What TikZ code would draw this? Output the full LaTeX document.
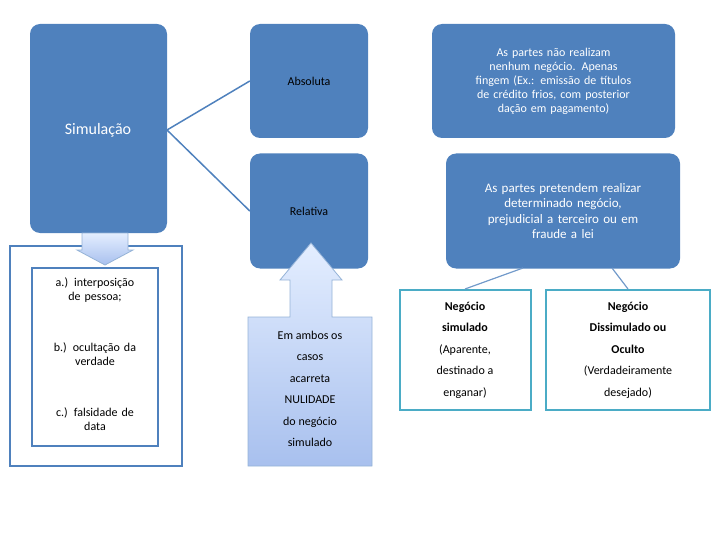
\documentclass[tikz,border=0pt]{standalone}
\usepackage{fontspec}
\setmainfont{Carlito}
\definecolor{bl}{HTML}{4F81BD}
\definecolor{tl}{HTML}{4BACC6}
\definecolor{lt}{HTML}{E4EEFF}
\definecolor{md}{HTML}{A8C0EE}
\begin{document}
\begin{tikzpicture}[x=1pt,y=-1pt,
  blk/.style={fill=bl,rounded corners=10pt,draw=none},
  wt/.style={text=white,font=\fontsize{12}{14}\selectfont,align=center},
  dk/.style={text=black,font=\fontsize{12}{14}\selectfont,align=center},
  tbox/.style={draw=tl,line width=2pt,fill=white},
  arr/.style={top color=lt,bottom color=md,draw=bl!60,line width=0.8pt},
  con/.style={draw=bl,line width=1.5pt}]
\path[use as bounding box] (0,0) rectangle (720,540);
% main boxes
\path[blk] (30,24) rectangle (167,233);
\node[blk,minimum width=118pt,minimum height=114pt] (abs) at (309,81) {};
\node[blk,minimum width=118pt,minimum height=115pt] (rel) at (309,211) {};
\node[blk,minimum width=243pt,minimum height=114pt] (t1) at (553.5,81) {};
\node[blk,minimum width=234pt,minimum height=115pt] (t2) at (563,211) {};
\node[wt,font=\fontsize{16}{18}\selectfont] (sim) at (98,130) {Simulação};
\coordinate (simr) at (167,130);
\node[dk] at (309,81) {Absoluta};
\node[dk] at (309,211) {Relativa};
\node[wt,text width=235pt] at (553.5,81) {As partes não realizam\\nenhum negócio. Apenas\\fingem (Ex.: emissão de títulos\\de crédito frios, com posterior\\dação em pagamento)};
\node[wt,font=\fontsize{13}{15.5}\selectfont,text width=230pt] at (563,211) {As partes pretendem realizar\\determinado negócio,\\prejudicial a terceiro ou em\\fraude a lei};
\draw[con] (simr) -- (abs.west);
\draw[con] (simr) -- (rel.west);
% left list
\draw[draw=bl,line width=2pt,fill=white] (10,246) rectangle (182,466);
\node[draw=bl,line width=2pt,fill=white,minimum width=126pt,minimum height=178pt,dk,font=\fontsize{12}{15}\selectfont] (list) at (95,357) {};
\node[dk,text width=124pt] at (95,290) {a.) interposição\\de pessoa;};
\node[dk,text width=124pt] at (95,354) {b.) ocultação da\\verdade};
\node[dk,text width=124pt] at (95,419) {c.) falsidade de\\data};
% down arrow
\path[arr] (82,233) -- (128,233) -- (128,250) -- (133,250) -- (105,265) -- (77,250) -- (82,250) -- cycle;
% up arrow callout
\path[arr] (248,466) -- (248,317) -- (290,317) -- (290,280) -- (280,280) -- (311,243) -- (342,280) -- (332,280) -- (332,317) -- (372,317) -- (372,466) -- cycle;
\node[dk,font=\fontsize{12}{21.5}\selectfont] (nul) at (310,389) {Em ambos os\\casos\\acarreta\\NULIDADE\\do negócio\\simulado};
% bottom right boxes
\node[tbox,minimum width=131pt,minimum height=120pt] (n1) at (465,350) {};
\node[tbox,minimum width=164pt,minimum height=120pt] (n2) at (628,350) {};
\node[dk,font=\fontsize{12}{21.5}\selectfont] at (465,350) {\textbf{Negócio}\\\textbf{simulado}\\(Aparente,\\destinado a\\enganar)};
\node[dk,font=\fontsize{12}{21.5}\selectfont] at (628,350) {\textbf{Negócio}\\\textbf{Dissimulado ou}\\\textbf{Oculto}\\(Verdadeiramente\\desejado)};
\coordinate (c1) at (523,268);
\coordinate (c2) at (612,268);
\draw[draw=bl!80,line width=1.2pt] (c1) -- (n1.north);
\draw[draw=bl!80,line width=1.2pt] (c2) -- (n2.north);
\end{tikzpicture}
\end{document}
